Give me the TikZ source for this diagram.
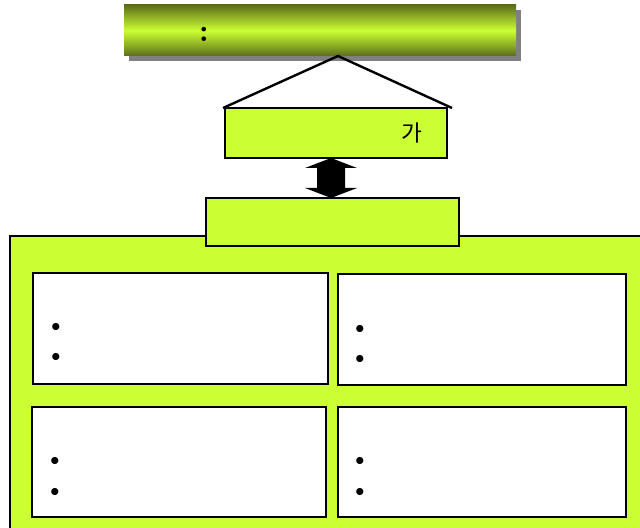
\documentclass[tikz,border=0pt]{standalone}
\usepackage{fontspec}
\newfontfamily\krfont{Noto Sans CJK KR}
\definecolor{lime}{HTML}{CCFF33}
\definecolor{darkolive}{HTML}{5C6E1A}
\definecolor{shadowgray}{HTML}{808080}
\begin{document}
\begin{tikzpicture}[x=0.75pt,y=-0.75pt,
  box/.style={draw=black, line width=2pt, inner sep=0pt, outer sep=0pt, anchor=north west},
  greenbox/.style={box, fill=lime},
  whitebox/.style={box, fill=white},
  bullet/.style={inner sep=0pt, font=\fontsize{24}{28}\selectfont},
  conn/.style={draw=black, line width=1.8pt, line join=miter}
]
\useasboundingbox (0,0) rectangle (640,528);
\clip (0,0) rectangle (640,528);
% container
\node[box, draw=black, line width=1pt, fill=lime, minimum width=480pt, minimum height=228pt] (cont) at (10,236) {};
% inner boxes
\node[whitebox, minimum width=221.25pt, minimum height=83.25pt] (tl) at (33,273) {};
\node[whitebox, minimum width=216pt, minimum height=83.25pt] (tr) at (338,274) {};
\node[whitebox, minimum width=220.5pt, minimum height=82.5pt] (bl) at (32,407) {};
\node[whitebox, minimum width=216pt, minimum height=82.5pt] (br) at (338,407) {};
\foreach \n/\x/\ya/\yb in {tla/56/329/359, tra/360/331/361, bla/55/463/494, bra/360/463/494}{
  \node[bullet] (\n1) at (\x,\ya) {\textbullet};
  \node[bullet] (\n2) at (\x,\yb) {\textbullet};
}
% banner with shadow
\fill[shadowgray] (129,10) rectangle (521,61);
\shade[top color=darkolive, bottom color=darkolive, middle color=lime] (124,5) rectangle (516,56);
\node[inner sep=0pt, minimum width=294pt, minimum height=38.25pt, anchor=north west] (banner) at (124,5) {};
\node[inner sep=0pt, font=\bfseries\fontsize{24}{28}\selectfont] (colon) at (204,34) {:};
% triangle
\coordinate (apex) at (338,56);
\coordinate (tL) at (223,108);
\coordinate (tR) at (452,108);
\draw[conn] (tL) -- (apex) -- (tR);
% box A
\node[greenbox, minimum width=166.5pt, minimum height=37.5pt] (boxA) at (225,108) {};
\node[inner sep=0pt, font=\krfont\fontsize{17}{20}\selectfont] (ga) at (412,133) {가};
% box B
\node[greenbox, minimum width=189.75pt, minimum height=36pt] (boxB) at (206,198) {};
% double arrow
\fill[black] (331,158) -- (357,168) -- (345,168) -- (345,188) -- (357,188) -- (331,198)
  -- (305,188) -- (317,188) -- (317,168) -- (305,168) -- cycle;
\end{tikzpicture}
\end{document}
